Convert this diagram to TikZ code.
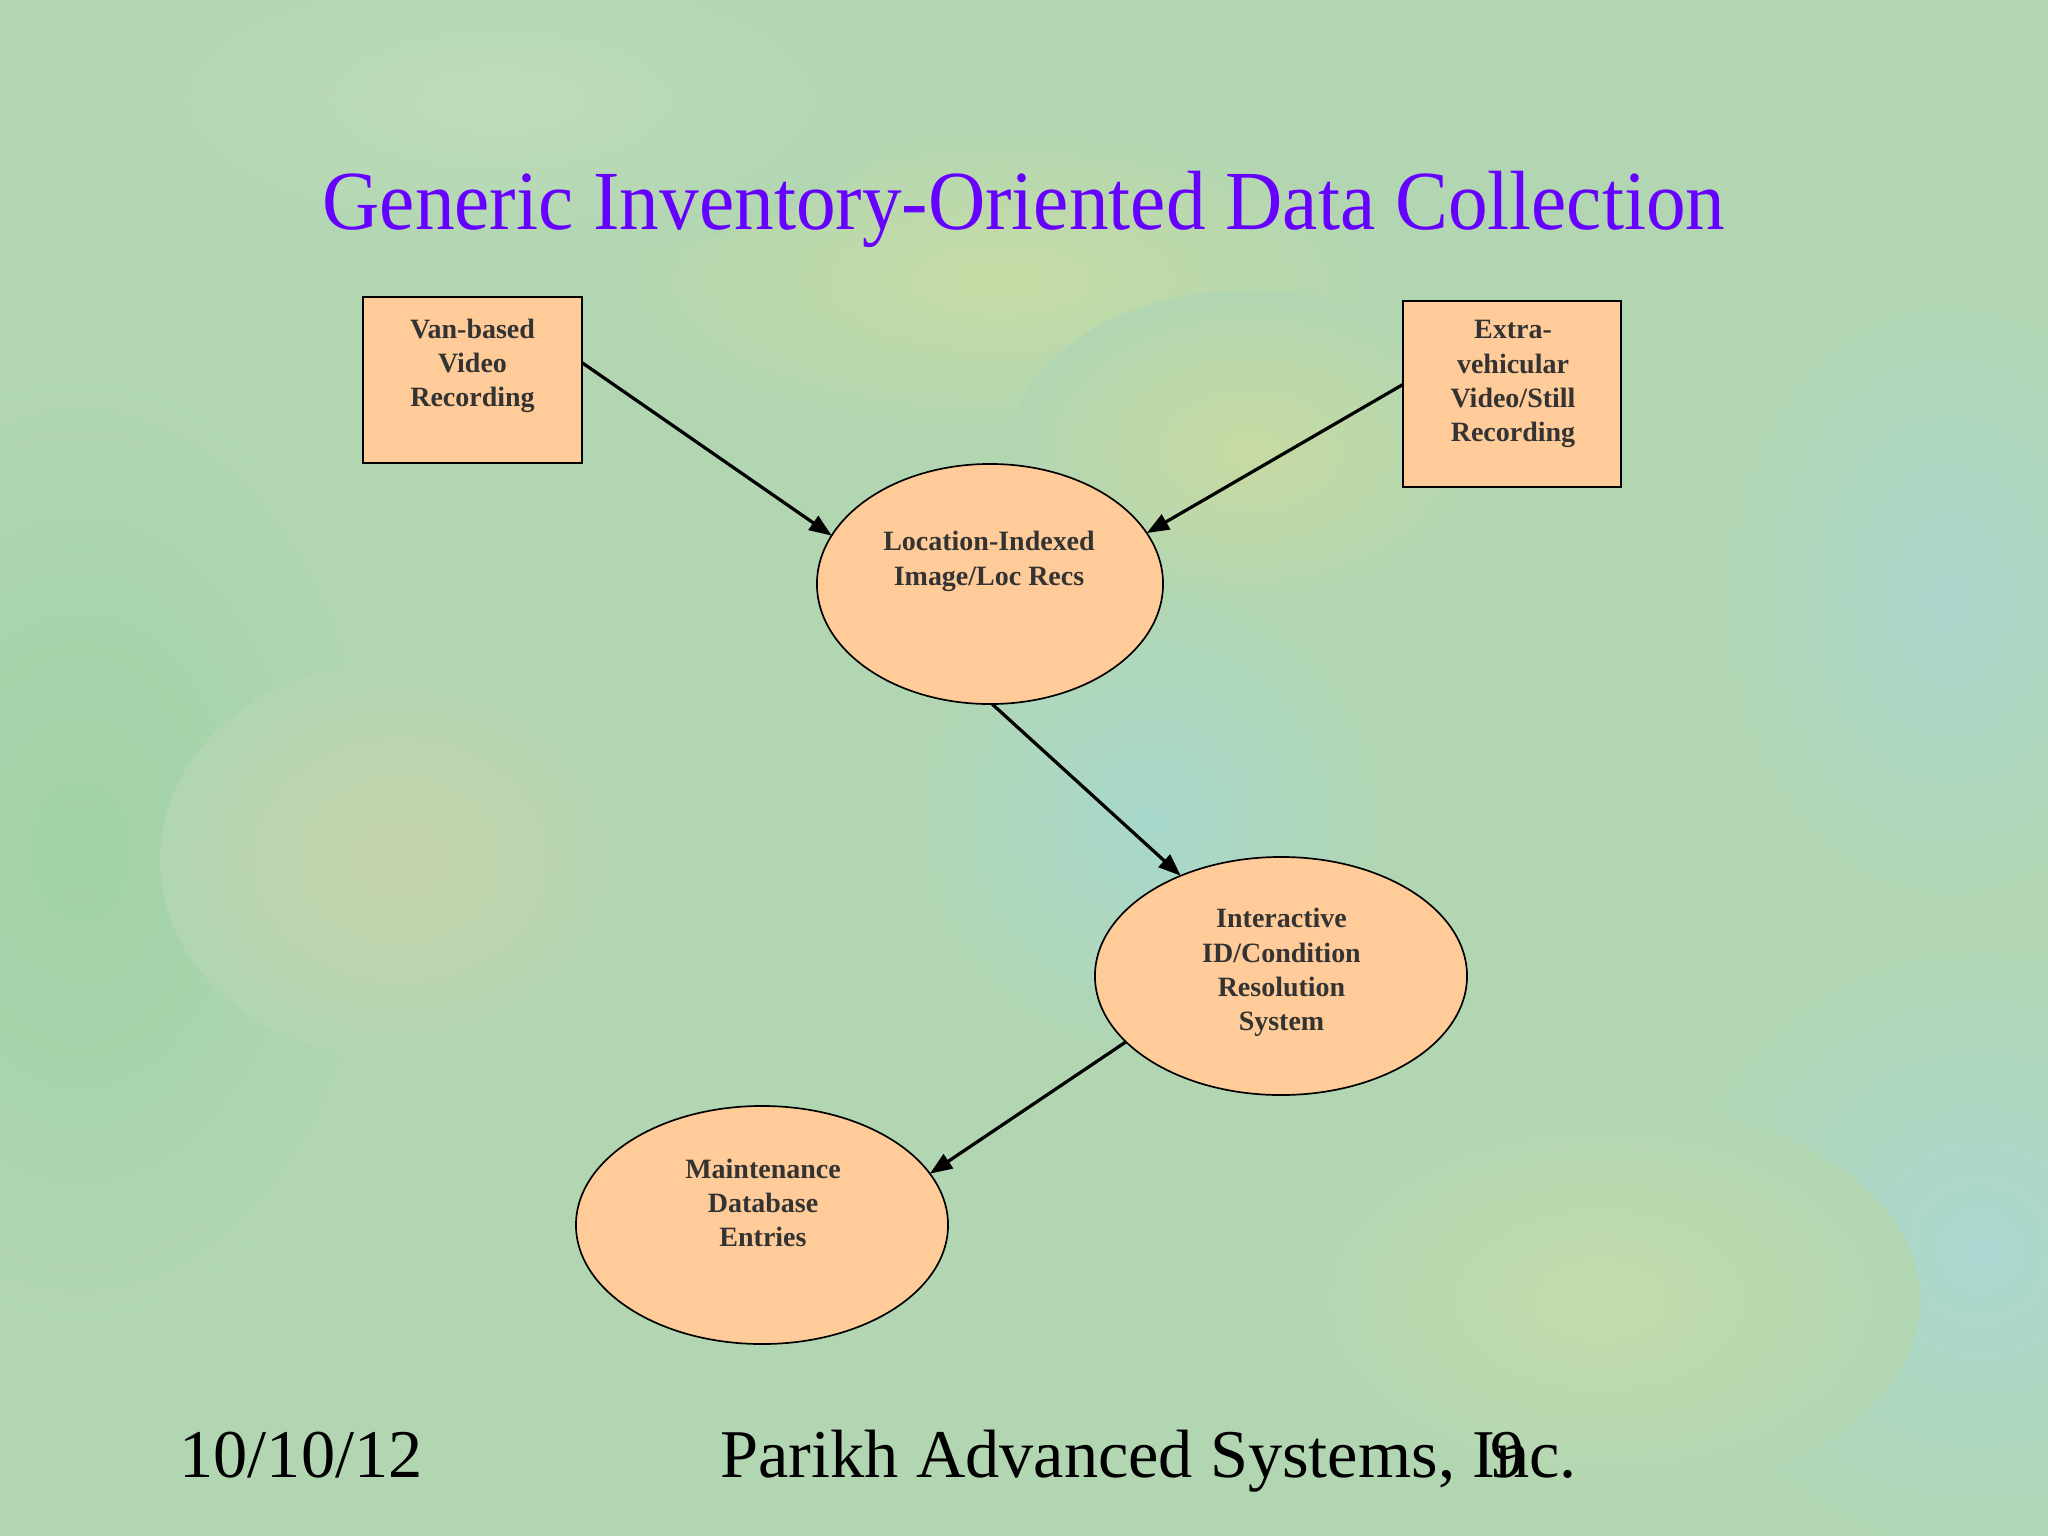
\documentclass[tikz,border=0pt]{standalone}
\usepackage{graphicx}
\usepackage{fontspec}
\setmainfont{Liberation Serif}
\usetikzlibrary{arrows.meta,shapes.geometric}
\definecolor{bg}{RGB}{178,214,178}
\definecolor{peach}{RGB}{255,204,153}
\definecolor{txt}{RGB}{51,51,51}
\definecolor{ttl}{RGB}{102,0,255}
\tikzset{
  boxnode/.style={draw=black, line width=0.75pt, fill=peach, rectangle, inner sep=0pt, outer sep=0pt},
  ellnode/.style={draw=black, line width=0.6pt, fill=peach, ellipse, inner sep=0pt, outer sep=0pt},
  lbl/.style={text=txt, font=\bfseries\fontsize{9.95pt}{12.2pt}\selectfont, align=center, anchor=base, inner sep=0pt},
  foot/.style={text=black, font=\fontsize{24.3pt}{28pt}\selectfont, inner sep=0pt},
  flow/.style={line width=1.15pt, -{Triangle[length=0.28cm,width=0.21cm]}},
}
\begin{document}
\begin{tikzpicture}[x=0.0125cm,y=-0.0125cm]
% background
\fill[bg] (0,0) rectangle (2048,1536);
\useasboundingbox (0,0) rectangle (2048,1536);
\shade[inner color={rgb,255:red,160;green,210;blue,165}, outer color=bg] (80,850) ellipse [x radius=4cm, y radius=6cm];
\shade[inner color={rgb,255:red,198;green,212;blue,172}, outer color=bg] (400,860) ellipse [x radius=3cm, y radius=2.5cm];
\shade[inner color={rgb,255:red,198;green,220;blue,165}, outer color=bg] (1000,280) ellipse [x radius=5cm, y radius=2cm];
\shade[inner color={rgb,255:red,200;green,218;blue,162}, outer color=bg] (1250,450) ellipse [x radius=3cm, y radius=2cm];
\shade[inner color={rgb,255:red,168;green,216;blue,205}, outer color=bg] (1150,820) ellipse [x radius=3cm, y radius=3cm];
\shade[inner color={rgb,255:red,170;green,215;blue,208}, outer color=bg] (1980,1250) ellipse [x radius=4cm, y radius=4cm];
\shade[inner color={rgb,255:red,172;green,214;blue,205}, outer color=bg] (1950,600) ellipse [x radius=3cm, y radius=4cm];
\shade[inner color={rgb,255:red,195;green,220;blue,172}, outer color=bg] (1600,1300) ellipse [x radius=4cm, y radius=2.5cm];
\shade[inner color={rgb,255:red,190;green,220;blue,185}, outer color=bg] (500,100) ellipse [x radius=5cm, y radius=2cm];

% title
\node (title) at (1024,229) [anchor=base, text=ttl, inner sep=0pt, font=\fontsize{28.2pt}{34pt}\selectfont]
  {\scalebox{1}[1.06]{Generic Inventory-Oriented Data Collection}};

% shapes
\node[boxnode, minimum width=2.7375cm, minimum height=2.075cm] (van) at (472.5,380) {};
\node[boxnode, minimum width=2.725cm, minimum height=2.325cm] (extra) at (1512,394) {};
\node[ellnode, minimum width=4.325cm, minimum height=3.0cm] (loc) at (990,584) {};
\node[ellnode, minimum width=4.65cm, minimum height=2.975cm] (inter) at (1281,976) {};
\node[ellnode, minimum width=4.65cm, minimum height=2.975cm] (maint) at (762,1225) {};

% labels (anchor = baseline of last line)
\node[lbl] (vanT) at (472.5,406.7) {Van-based\\Video\\Recording};
\node[lbl] (extraT) at (1513,441.7) {Extra-\\vehicular\\Video/Still\\Recording};
\node[lbl] (locT) at (989,585) {Location-Indexed\\Image/Loc Recs};
\node[lbl] (interT) at (1281.5,1030.7) {Interactive\\ID/Condition\\Resolution\\System};
\node[lbl] (maintT) at (763,1246.7) {Maintenance\\Database\\Entries};

% connectors
\draw[flow] (van.9.3) -- (loc.163.3);
\draw[flow] (extra.175.3) -- (loc.18.9);
\draw[flow] (loc.271) -- (inter.135);
\draw[flow] (inter.203.9) -- (maint.17.7);

% footer
\node[foot, anchor=base west] (date) at (179,1477) {10/10/12};
\node[foot, anchor=base west] (company) at (720,1477) {Parikh Advanced Systems, Inc.};
\node[foot, anchor=base] (page) at (1508,1477) {9};
\end{tikzpicture}
\end{document}
